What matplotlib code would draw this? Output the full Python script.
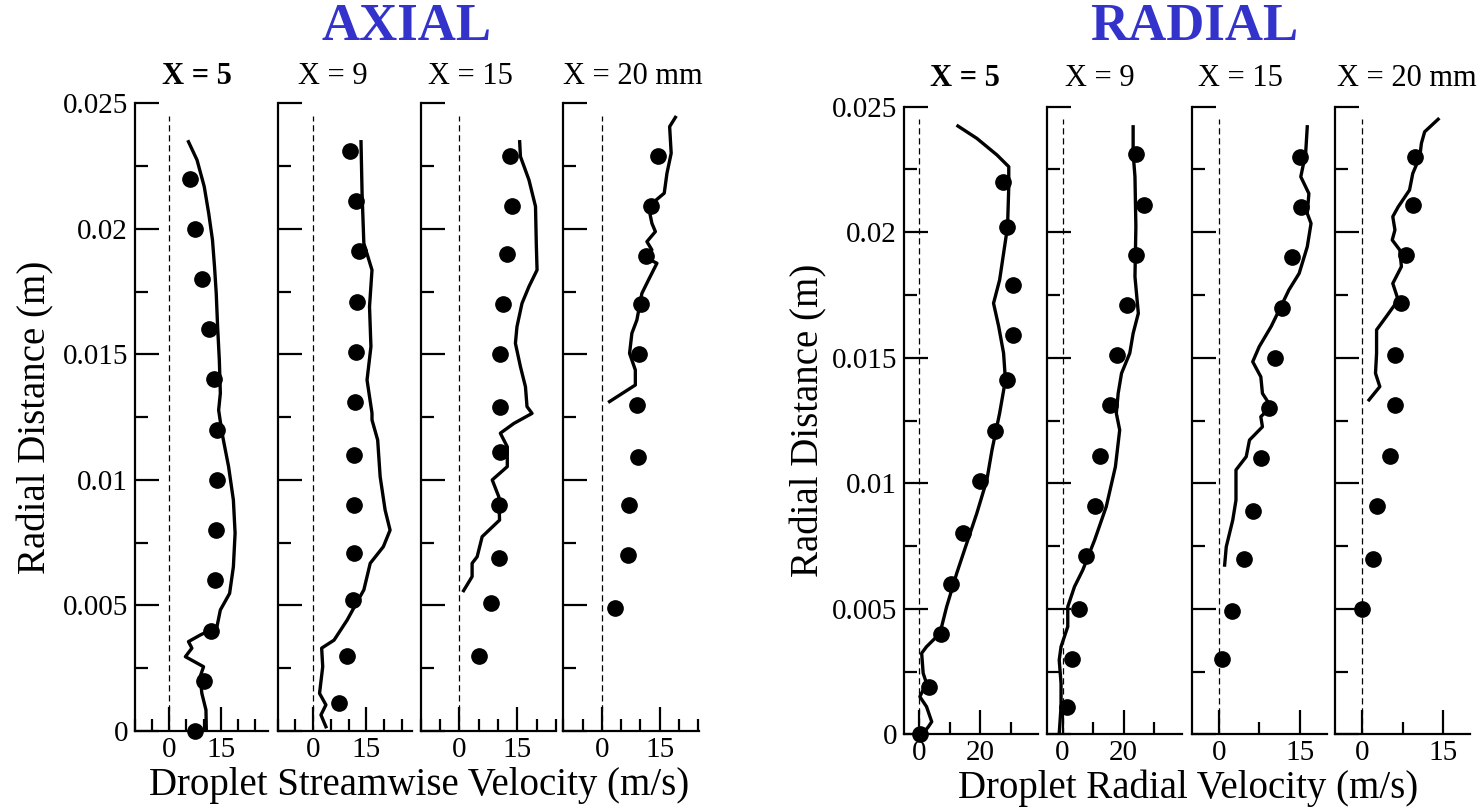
import numpy as np
import matplotlib
matplotlib.use("Agg")
import matplotlib.pyplot as plt
from matplotlib.ticker import MultipleLocator, FixedLocator

plt.rcParams['font.family'] = ['Liberation Serif', 'DejaVu Serif']

# measured droplet radial positions (m) and velocities (m/s)
# ---- axial velocity ----
ax5_r = [0.022, 0.020, 0.018, 0.016, 0.014, 0.012, 0.010, 0.008, 0.006, 0.004, 0.002, 0.0]
ax5_v = [6.1, 7.4, 9.5, 11.7, 13.0, 13.9, 13.9, 13.7, 13.4, 12.1, 10.0, 7.6]
ax9_r = [0.0231, 0.0211, 0.0191, 0.0171, 0.0151, 0.0131, 0.0110, 0.0090, 0.0071, 0.0052, 0.0030, 0.0011]
ax9_v = [10.3, 12.2, 12.9, 12.4, 12.2, 11.7, 11.5, 11.5, 11.5, 11.3, 9.6, 7.3]
ax15_r = [0.0229, 0.0209, 0.0190, 0.0170, 0.0150, 0.0129, 0.0111, 0.0090, 0.0069, 0.0051, 0.0030]
ax15_v = [13.2, 13.5, 12.4, 11.2, 10.4, 10.4, 10.6, 10.2, 10.2, 8.2, 5.2]
ax20_r = [0.0229, 0.0209, 0.0189, 0.0170, 0.0150, 0.0130, 0.0109, 0.0090, 0.0070, 0.0049]
ax20_v = [14.6, 12.8, 11.5, 10.2, 9.6, 9.1, 9.3, 7.0, 6.7, 3.3]

# simulated axial profiles
axs5_r = [0.02347, 0.02274, 0.02168, 0.02062, 0.01956, 0.01849, 0.01743, 0.0161, 0.01478,
          0.01345, 0.01278, 0.01186, 0.01053, 0.0092, 0.00788, 0.00654, 0.00548, 0.00482,
          0.00415, 0.00382, 0.00356, 0.0033, 0.00296, 0.00256, 0.00216, 0.0015, 0.00084, 0.0001]
axs5_v = [5.6, 8.1, 10.2, 11.5, 12.6, 13.2, 13.7, 14.1, 14.6,
          14.9, 14.4, 15.4, 17.3, 18.7, 19.2, 18.7, 17.6, 14.9,
          13.9, 9.0, 5.6, 6.6, 4.7, 10.0, 9.0, 9.5, 10.7, 10.8]
axs9_r = [0.02347, 0.02142, 0.01942, 0.01836, 0.0169, 0.01531, 0.01398, 0.01266, 0.01239,
          0.01159, 0.01013, 0.0088, 0.008, 0.00734, 0.00668, 0.00562, 0.00509, 0.00442,
          0.00362, 0.0033, 0.00256, 0.0015, 0.00104, 0.00064, 0.00017]
axs9_v = [13.5, 13.8, 14.3, 16.6, 15.9, 16.3, 15.2, 16.6, 16.6,
          18.2, 18.9, 20.3, 21.7, 19.8, 16.1, 14.3, 12.2, 9.6,
          5.9, 2.4, 2.7, 1.8, 3.6, 2.2, 3.6]
axs15_r = [0.02347, 0.02288, 0.02195, 0.02089, 0.01942, 0.01836, 0.0177, 0.01703, 0.0161,
           0.01544, 0.01451, 0.01371, 0.01292, 0.01265, 0.01225, 0.01186, 0.01132, 0.01053,
           0.0100, 0.00933, 0.0084, 0.00774, 0.00694, 0.00668, 0.00615, 0.00559]
axs15_v = [15.6, 15.8, 18.0, 19.7, 19.9, 20.1, 18.0, 16.2, 14.9,
           14.5, 15.8, 17.1, 17.5, 18.8, 14.1, 10.6, 12.4, 12.4,
           8.5, 10.2, 10.4, 5.9, 4.6, 3.3, 3.3, 1.1]
axs20_r = [0.02444, 0.02407, 0.02301, 0.02221, 0.02142, 0.02089, 0.02022, 0.01989, 0.01949,
           0.01916, 0.0189, 0.01863, 0.01796, 0.01743, 0.01637, 0.01584, 0.01504, 0.01438,
           0.01378, 0.01312]
axs20_v = [19.1, 17.6, 18.0, 16.9, 16.2, 12.1, 13.0, 13.9, 11.7,
           13.0, 10.8, 14.3, 12.1, 10.4, 9.1, 7.8, 7.2, 8.7,
           8.7, 2.0]

# ---- radial velocity ----
ra5_r = [0.0220, 0.0202, 0.0179, 0.0159, 0.0141, 0.0121, 0.0101, 0.0080, 0.0060, 0.0040, 0.0019, 0.0]
ra5_v = [27.5, 28.8, 30.8, 30.8, 28.8, 25.0, 19.8, 14.5, 10.5, 7.2, 3.3, 0.2]
ra9_r = [0.0231, 0.0211, 0.0191, 0.0171, 0.0151, 0.0131, 0.0111, 0.0091, 0.0071, 0.0050, 0.0030, 0.0011]
ra9_v = [24.2, 26.6, 24.2, 21.1, 17.8, 15.4, 12.1, 10.5, 7.7, 5.5, 3.0, 1.3]
ra15_r = [0.0230, 0.0210, 0.0190, 0.0170, 0.0150, 0.0130, 0.0110, 0.0089, 0.0070, 0.0049, 0.0030]
ra15_v = [15.0, 15.2, 13.6, 11.7, 10.4, 9.4, 7.8, 6.4, 4.7, 2.5, 0.6]
ra20_r = [0.0230, 0.0211, 0.0191, 0.0172, 0.0151, 0.0131, 0.0111, 0.0091, 0.0070, 0.0050]
ra20_v = [9.9, 9.4, 8.2, 7.3, 6.1, 6.1, 5.1, 2.8, 2.0, 0.0]

# simulated radial profiles
ras5_r = [0.02423, 0.02374, 0.02308, 0.02261, 0.02181, 0.02022, 0.01916, 0.0181, 0.01717,
          0.01624, 0.01518, 0.01411, 0.01279, 0.01133, 0.01013, 0.0088, 0.00761, 0.00641,
          0.00508, 0.00402, 0.00349, 0.00323, 0.00243, 0.00203, 0.0015, 0.0011, 0.0005,
          0.0003, 0.00004]
ras5_v = [12.7, 18.9, 25.5, 29.4, 29.4, 29.0, 27.7, 26.4, 24.4,
          26.1, 27.7, 28.3, 26.4, 23.9, 22.2, 18.9, 15.6, 12.3,
          9.0, 6.8, 2.4, 0.8, 1.3, 2.4, 0.2, 2.4, 4.1,
          3.0, 1.3]
ras9_r = [0.0242, 0.02314, 0.02221, 0.02022, 0.01823, 0.01677, 0.01597, 0.01518, 0.01438,
          0.01358, 0.01279, 0.01212, 0.01066, 0.00907, 0.00774, 0.00654, 0.00588, 0.00508,
          0.00429, 0.00349, 0.00296, 0.00203, 0.0011, 0.00004]
ras9_v = [23.1, 23.1, 23.7, 24.0, 23.7, 24.8, 23.1, 22.0, 19.3,
          18.2, 17.6, 18.7, 17.3, 14.3, 10.5, 6.6, 3.9, 1.7,
          1.7, -0.5, -1.1, -0.5, -0.5, -1.1]
ras15_r = [0.0242, 0.02314, 0.02221, 0.02154, 0.02075, 0.02035, 0.01942, 0.01836, 0.0177,
           0.01703, 0.01624, 0.01544, 0.01484, 0.01424, 0.01358, 0.01305, 0.01265, 0.01225,
           0.01172, 0.01106, 0.01053, 0.00933, 0.00853, 0.00747, 0.00674]
ras15_v = [16.4, 16.1, 15.2, 16.7, 16.4, 17.1, 16.4, 14.9, 13.0,
           11.5, 9.7, 7.5, 6.3, 7.8, 8.1, 9.7, 7.8, 8.1,
           5.7, 5.1, 3.2, 3.2, 2.6, 1.4, 1.1]
ras20_r = [0.0245, 0.0240, 0.02354, 0.0230, 0.02234, 0.02168, 0.02101, 0.02062, 0.02009,
           0.01969, 0.01929, 0.01863, 0.01796, 0.0173, 0.01664, 0.01611, 0.01518, 0.01438,
           0.01385, 0.01332]
ras20_v = [14.1, 11.6, 11.0, 10.7, 9.4, 8.8, 6.7, 5.7, 6.1,
           5.6, 7.0, 7.3, 5.7, 6.7, 4.5, 2.7, 2.7, 2.5,
           3.3, 1.3]

titles = ["X = 5", "X = 9", "X = 15", "X = 20 mm"]
r_ticks = [0, 0.005, 0.01, 0.015, 0.02, 0.025]
r_labels = ["0", "0.005", "0.01", "0.015", "0.02", "0.025"]
axial_xlim = [(-10, 28.8), (-10, 27.8), (-10, 25), (-10, 25.3)]
radial_xlim = [(-5, 39), (-5, 39), (-5, 20), (-5, 20)]
axial_ticks = [[0, 15]] * 4
radial_ticks = [[0, 20], [0, 20], [0, 15], [0, 15]]
radial_minor = [10, 10, 7.5, 7.5]

axial_exp = [(ax5_v, ax5_r), (ax9_v, ax9_r), (ax15_v, ax15_r), (ax20_v, ax20_r)]
axial_sim = [(axs5_v, axs5_r), (axs9_v, axs9_r), (axs15_v, axs15_r), (axs20_v, axs20_r)]
radial_exp = [(ra5_v, ra5_r), (ra9_v, ra9_r), (ra15_v, ra15_r), (ra20_v, ra20_r)]
radial_sim = [(ras5_v, ras5_r), (ras9_v, ras9_r), (ras15_v, ras15_r), (ras20_v, ras20_r)]

W, H = 1483, 807
fig = plt.figure(figsize=(W / 100, H / 100), dpi=100)


def panel(x0, x1, ytop, ybot):
    return fig.add_axes([x0 / W, (H - ybot) / H, (x1 - x0) / W, (ybot - ytop) / H])


def style(ax, xlim, ticks, minor, first):
    ax.set_xlim(*xlim)
    ax.set_ylim(0, 0.025)
    for s in ['top', 'right']:
        ax.spines[s].set_visible(False)
    for s in ['left', 'bottom']:
        ax.spines[s].set_linewidth(1.6)
    ax.xaxis.set_major_locator(FixedLocator(ticks))
    ax.xaxis.set_minor_locator(MultipleLocator(minor))
    ax.yaxis.set_major_locator(FixedLocator(r_ticks))
    ax.yaxis.set_minor_locator(MultipleLocator(0.0025))
    ax.tick_params(which='major', direction='in', length=17, width=1.6, labelsize=21)
    ax.tick_params(which='minor', direction='in', length=9, width=1.6)
    ax.tick_params(axis='x', pad=4)
    ax.tick_params(axis='y', pad=5)
    ax.set_xticklabels([str(t) for t in ticks])
    if first:
        ax.set_yticklabels(r_labels)
    else:
        ax.set_yticklabels([])
    ax.set_facecolor('none')


def draw(ax, exp, sim):
    ax.plot([0, 0], [0, 0.0245], color='black', lw=0.9, ls=(0, (5, 3)))
    ax.plot(sim[0], sim[1], color='black', lw=2.4, solid_joinstyle='round')
    ax.plot(exp[0], exp[1], 'o', color='black', ms=11, clip_on=False)


# axial group
left_x = [(135, 268), (277.7, 411.7), (420.7, 556), (563.3, 699.3)]
for i, (x0, x1) in enumerate(left_x):
    ax = panel(x0, x1, 103.3, 731)
    draw(ax, axial_exp[i], axial_sim[i])
    style(ax, axial_xlim[i], axial_ticks[i], 5, i == 0)
    if i == 0:
        ax.set_ylabel("Radial Distance (m)", fontsize=28, labelpad=6)

# radial group
right_x = [(904, 1038), (1047.3, 1181.7), (1191.7, 1326.7), (1335, 1470)]
for i, (x0, x1) in enumerate(right_x):
    ax = panel(x0, x1, 106.7, 734.3)
    draw(ax, radial_exp[i], radial_sim[i])
    style(ax, radial_xlim[i], radial_ticks[i], radial_minor[i], i == 0)
    if i == 0:
        ax.set_ylabel("Radial Distance (m)", fontsize=28, labelpad=3)

# panel headings
left_title_x = [197, 333, 470, 633]
right_title_x = [965, 1100, 1240, 1407]
for i, t in enumerate(titles):
    w = 'bold' if i == 0 else 'normal'
    fig.text(left_title_x[i] / W, 1 - 77 / H, t, ha='center', va='center', fontsize=22, fontweight=w)
    fig.text(right_title_x[i] / W, 1 - 78 / H, t, ha='center', va='center', fontsize=22, fontweight=w)

fig.text(407 / W, 1 - 27 / H, "AXIAL", ha='center', va='center', fontsize=38,
         fontweight='bold', color='#3333cc')
fig.text(1194 / W, 1 - 27 / H, "RADIAL", ha='center', va='center', fontsize=38,
         fontweight='bold', color='#3333cc')

fig.text(419 / W, 1 - 786 / H, "Droplet Streamwise Velocity (m/s)", ha='center', va='center', fontsize=28)
fig.text(1188 / W, 1 - 788 / H, "Droplet Radial Velocity (m/s)", ha='center', va='center', fontsize=28)

fig.savefig("out.png", dpi=100, facecolor='white')
